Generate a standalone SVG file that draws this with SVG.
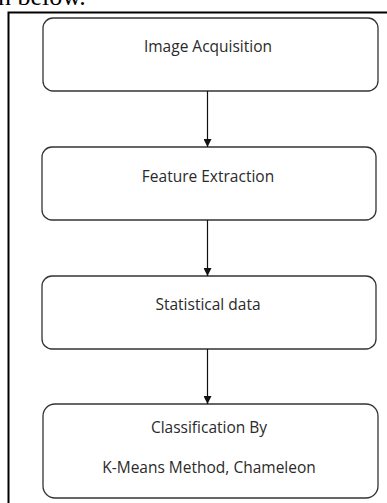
<svg xmlns="http://www.w3.org/2000/svg" width="387" height="503" viewBox="0 0 387 503">
<defs>
<style>
.box{fill:#fff;stroke:#333;stroke-width:1.3}
.lbl{font-family:"Open Sans","Liberation Sans",sans-serif;font-size:15.5px;fill:#2a2a2a;text-anchor:middle}
.edge{stroke:#111;stroke-width:1.2;fill:none}
</style>
<marker id="ah" viewBox="0 0 10 10" refX="10" refY="5" markerWidth="8" markerHeight="8" markerUnits="userSpaceOnUse" orient="auto">
<path d="M0,0 L10,5 L0,10 Z" fill="#111"/>
</marker>
</defs>
<rect width="387" height="503" fill="#fff"/>
<text x="-2" y="5" font-family="Liberation Serif,serif" font-size="26" fill="#000">n below.</text>
<path d="M8.5,503 V12.5 H387" fill="none" stroke="#000" stroke-width="2"/>
<g id="n1"><rect class="box" x="43" y="18" width="335" height="73" rx="10"/><text class="lbl" x="208" y="52">Image Acquisition</text></g>
<g id="n2"><rect class="box" x="42" y="147" width="334" height="73" rx="10"/><text class="lbl" x="208" y="182">Feature Extraction</text></g>
<g id="n3"><rect class="box" x="42" y="276" width="334" height="73" rx="10"/><text class="lbl" x="208" y="310">Statistical data</text></g>
<g id="n4"><rect class="box" x="43" y="404" width="335" height="94" rx="12"/><text class="lbl" x="209" y="433">Classification By</text><text class="lbl" x="209" y="473">K-Means Method, Chameleon</text></g>
<g id="edges">
<path class="edge" d="M207.5,91 V147" marker-end="url(#ah)"/>
<path class="edge" d="M207.5,220 V276" marker-end="url(#ah)"/>
<path class="edge" d="M207.5,349 V404" marker-end="url(#ah)"/>
</g>
</svg>
